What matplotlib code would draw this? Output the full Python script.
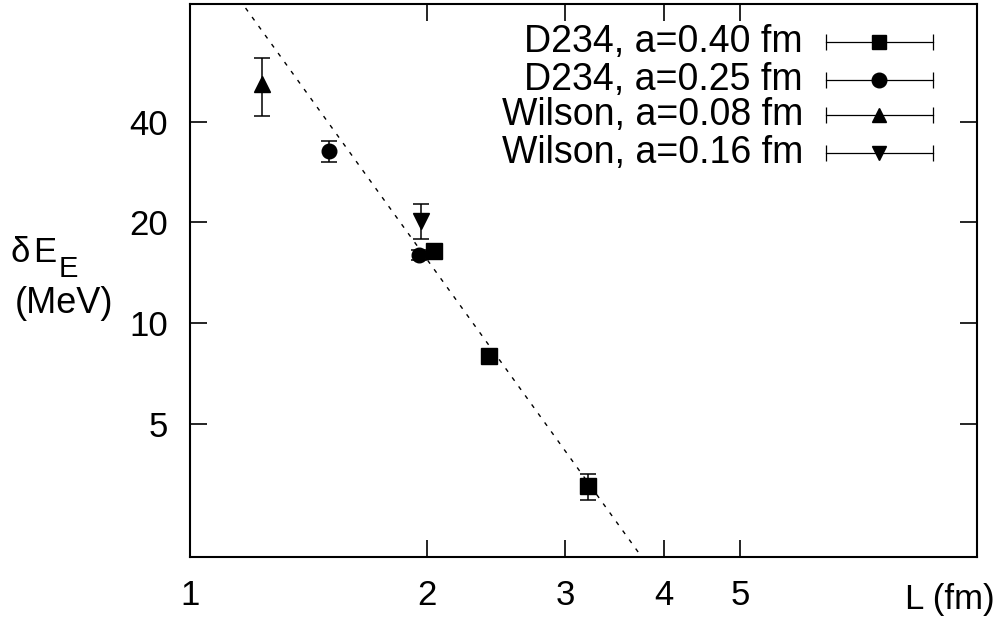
import matplotlib
matplotlib.use('Agg')
import matplotlib.pyplot as plt

# 字体: Arial 风格
plt.rcParams['font.family'] = ['Liberation Sans', 'DejaVu Sans']

# 数据
sq_L = [2.04, 2.40, 3.20]          # D234, a=0.40 fm
sq_E = [16.4, 8.0, 3.25]
sq_err = [0.4, 0.3, 0.29]

ci_L = [1.50, 1.956]               # D234, a=0.25 fm
ci_E = [32.7, 16.0]
ci_err = [2.4, 0.5]

tu_L = [1.236]                     # Wilson, a=0.08 fm
tu_E = [51.8]
tu_err = [10.3]

td_L = [1.966]                     # Wilson, a=0.16 fm
td_E = [20.25]
td_err = [2.45]

# 虚线拟合 (两端点, 对数坐标下为直线)
fit_L = [1.10, 4.0]
fit_E = [109.0, 1.62]

labels = ['D234, a=0.40 fm', 'D234, a=0.25 fm',
          'Wilson, a=0.08 fm', 'Wilson, a=0.16 fm']
markers = ['s', 'o', '^', 'v']
x_ticks = [1, 2, 3, 4, 5]
y_ticks = [5, 10, 20, 40]

fig = plt.figure(figsize=(10, 6.24), dpi=100)
ax = fig.add_axes([0.19, 0.1074, 0.787, 0.8862])

ax.plot(fit_L, fit_E, color='black', lw=1.0, dashes=(3, 5), zorder=1)

series = [(sq_L, sq_E, sq_err), (ci_L, ci_E, ci_err),
          (tu_L, tu_E, tu_err), (td_L, td_E, td_err)]
msize = [11, 10.5, 11, 11]
for (L, E, err), m, ms in zip(series, markers, msize):
    ax.errorbar(L, E, yerr=err, fmt=m, color='black', ms=ms,
                elinewidth=1.1, capsize=6, capthick=1.1, zorder=3)

ax.set_xscale('log')
ax.set_yscale('log')
ax.set_xlim(1, 10)
ax.set_ylim(2, 90)
ax.xaxis.set_minor_locator(matplotlib.ticker.NullLocator())
ax.yaxis.set_minor_locator(matplotlib.ticker.NullLocator())
ax.set_xticks(x_ticks)
ax.set_xticklabels([str(t) for t in x_ticks])
ax.set_yticks(y_ticks)
ax.set_yticklabels([str(t) for t in y_ticks])
ax.tick_params(direction='in', length=12, width=1.2, labelsize=25,
               top=True, right=True, pad=16)
for sp in ax.spines.values():
    sp.set_linewidth(1.5)

# 手动图例
row_y = [0.932, 0.863, 0.799, 0.731]
for y, lab, m in zip(row_y, labels, markers):
    ax.text(0.779, y, lab, transform=ax.transAxes, ha='right', va='center',
            fontsize=27)
    ax.plot([0.808, 0.944], [y, y], transform=ax.transAxes, color='black',
            lw=0.9, clip_on=False)
    ax.plot([0.808, 0.944], [y, y], transform=ax.transAxes, color='black',
            ls='none', marker='|', ms=11, mew=0.9, clip_on=False)
    ax.plot([0.876], [y], transform=ax.transAxes, color='black', ls='none',
            marker=m, ms=10.5, clip_on=False)

# y 轴标题 (δE_E, 各部分单独放置)
fig.text(0.011, (624 - 262) / 624, 'δ', fontsize=25,
         ha='left', va='baseline')
fig.text(0.033, (624 - 262) / 624, 'E', fontsize=25,
         ha='left', va='baseline')
fig.text(0.059, (624 - 277) / 624, 'E', fontsize=21,
         ha='left', va='baseline')
fig.text(0.015, (624 - 313) / 624, '(MeV)', fontsize=26,
         ha='left', va='baseline')
fig.text(0.995, (624 - 609) / 624, 'L (fm)', fontsize=25,
         ha='right', va='baseline')

fig.savefig('out.png', dpi=100)
